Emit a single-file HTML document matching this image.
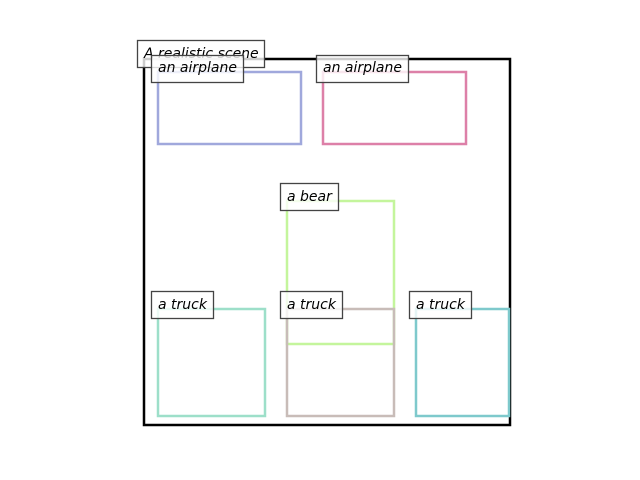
<!DOCTYPE html>
<html><head><meta charset="utf-8"><style>
html,body{margin:0;padding:0;background:#fff;width:640px;height:480px;overflow:hidden}
svg{display:block}
text{font-family:"DejaVu Sans","Liberation Sans",sans-serif;font-style:oblique;font-size:14px;fill:#000}
</style></head><body>
<svg width="640" height="480" viewBox="0 0 640 480" xmlns="http://www.w3.org/2000/svg">
<rect x="144" y="59" width="366" height="366" fill="none" stroke="#000" stroke-width="2.5"/>
<g fill="none" stroke-width="2.5">
<rect x="158" y="72" width="143" height="72" stroke="#a0a8dc"/>
<rect x="323" y="72" width="143" height="72" stroke="#dd80a8"/>
<rect x="287" y="201" width="107" height="143" stroke="#c4f59c"/>
<rect x="158" y="309" width="107" height="107" stroke="#9ddfc9"/>
<rect x="287" y="309" width="107" height="107" stroke="#c8bcb8"/>
<rect x="416" y="309" width="93" height="107" stroke="#7ec9cc"/>
</g>
<g fill="#fff" fill-opacity="0.8" stroke="#444" stroke-width="1.3">
<rect x="137.5" y="40.5" width="127" height="27"/>
</g>
<text x="144" y="58">A realistic scene</text>
<g fill="#fff" fill-opacity="0.8" stroke="#444" stroke-width="1.3">
<rect x="151.5" y="55.5" width="92" height="27"/>
<rect x="316.5" y="55.5" width="92" height="27"/>
<rect x="280.5" y="183.5" width="58" height="27"/>
<rect x="151.5" y="291.5" width="62" height="27"/>
<rect x="280.5" y="291.5" width="62" height="27"/>
<rect x="409.5" y="291.5" width="62" height="27"/>
</g>
<text x="158" y="72">an airplane</text>
<text x="323" y="72">an airplane</text>
<text x="287" y="201">a bear</text>
<text x="158" y="309">a truck</text>
<text x="287" y="309">a truck</text>
<text x="416" y="309">a truck</text>
</svg>
</body></html>
